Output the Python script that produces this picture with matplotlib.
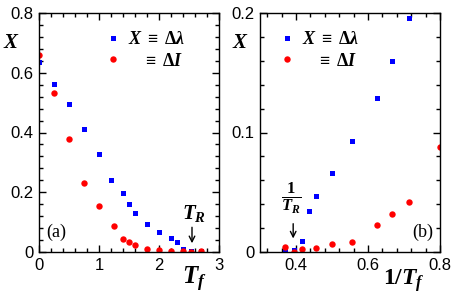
import matplotlib
matplotlib.use("Agg")
import matplotlib.pyplot as plt
import numpy as np
from matplotlib.ticker import MultipleLocator, FixedLocator, FixedFormatter

plt.rcParams['font.family'] = ['Liberation Sans', 'DejaVu Sans']
plt.rcParams['mathtext.fontset'] = 'custom'
plt.rcParams['mathtext.it'] = 'Liberation Serif:italic:bold'
plt.rcParams['mathtext.rm'] = 'Liberation Serif:bold'
plt.rcParams['mathtext.bf'] = 'Liberation Serif:bold'

# Data
Tf_lambda = [0, 0.25, 0.5, 0.75, 1.0, 1.2, 1.4, 1.5, 1.6, 1.8, 2.0, 2.2, 2.3, 2.4, 2.54, 2.7]
X_lambda = [0.635, 0.561, 0.496, 0.412, 0.327, 0.24, 0.196, 0.16, 0.129, 0.093, 0.066, 0.047, 0.034, 0.009, 0.002, 0.002]
Tf_I = [0, 0.25, 0.5, 0.75, 1.0, 1.25, 1.4, 1.5, 1.6, 1.8, 2.0, 2.2, 2.4, 2.54, 2.7]
X_I = [0.66, 0.531, 0.377, 0.23, 0.154, 0.088, 0.042, 0.032, 0.023, 0.0085, 0.0068, 0.0036, 0.0025, 0.0, 0.0038]
T_R = 2.55

xticks_a = [0, 1, 2, 3]
xticklabels_a = ['0', '1', '2', '3']
yticks_a = [0, 0.2, 0.4, 0.6, 0.8]
yticklabels_a = ['0', '0.2', '0.4', '0.6', '0.8']
xticks_b = [0.4, 0.6, 0.8]
xticklabels_b = ['0.4', '0.6', '0.8']
yticks_b = [0, 0.1, 0.2]
yticklabels_b = ['0', '0.1', '0.2']

lab_lambda = r'$X\;\equiv\;\Delta\lambda$'
lab_I = r'$\hspace{1.05}\equiv\;\Delta I$'

W, H = 457, 297
fig = plt.figure(figsize=(W/100, H/100), dpi=100)
axa = fig.add_axes([39/W, 1-252/H, 180/W, 239/H])
axb = fig.add_axes([260/W, 1-252/H, 180/W, 239/H])

blue = '#0000ff'
red = '#ff0000'

def style(ax, xt, xtl, yt, ytl, xmin, ymin):
    ax.xaxis.set_major_locator(FixedLocator(xt))
    ax.xaxis.set_major_formatter(FixedFormatter(xtl))
    ax.yaxis.set_major_locator(FixedLocator(yt))
    ax.yaxis.set_major_formatter(FixedFormatter(ytl))
    ax.xaxis.set_minor_locator(MultipleLocator(xmin))
    ax.yaxis.set_minor_locator(MultipleLocator(ymin))
    ax.tick_params(which='both', direction='in', top=True, right=True, width=1, labelsize=12)
    ax.tick_params(which='major', length=5, pad=4)
    ax.tick_params(which='minor', length=3)
    for s in ax.spines.values():
        s.set_linewidth(1)

leg_kw = dict(frameon=False, fontsize=13, handlelength=0.6, handletextpad=0.5,
              borderaxespad=0.0, labelspacing=0.25, borderpad=0.0)

# Panel (a)
axa.plot(Tf_lambda, X_lambda, 's', color=blue, ms=3.6, mew=0, label=lab_lambda)
axa.plot(Tf_I, X_I, 'o', color=red, ms=4.6, mew=0, label=lab_I)
axa.set_xlim(0, 3)
axa.set_ylim(0, 0.8)
style(axa, xticks_a, xticklabels_a, yticks_a, yticklabels_a, 0.2, 0.04)
axa.legend(loc='upper left', bbox_to_anchor=((108 - 39) / 180, (252 - 31) / 239), **leg_kw)
axa.text(0.04, 0.084, '(a)', transform=axa.transAxes, fontsize=13,
         family='Liberation Serif', ha='left', va='center')
axa.annotate('', xy=(T_R, 0.02), xytext=(T_R, 0.092),
             arrowprops=dict(arrowstyle='->', lw=1, color='black'))
axa.text(T_R + 0.03, 0.13, r'$T_R$', fontsize=15, ha='center', va='center')
fig.text(3/W, 1-43/H, r'$X$', fontsize=15, ha='left', va='center')
fig.text(194/W, 1-279/H, r'$T_f$', fontsize=18, ha='center', va='center')

# Panel (b)
axb.plot(1/np.array(Tf_lambda[1:]), X_lambda[1:], 's', color=blue, ms=3.6, mew=0, label=lab_lambda)
axb.plot(1/np.array(Tf_I[1:]), X_I[1:], 'o', color=red, ms=4.6, mew=0, label=lab_I)
axb.set_xlim(0.3, 0.8)
axb.set_ylim(0, 0.2)
style(axb, xticks_b, xticklabels_b, yticks_b, yticklabels_b, 0.04, 0.02)
axb.legend(loc='upper left', bbox_to_anchor=((282 - 260) / 180, (252 - 31) / 239), **leg_kw)
axb.text(0.96, 0.084, '(b)', transform=axb.transAxes, fontsize=13,
         family='Liberation Serif', ha='right', va='center')
axb.annotate('', xy=(1/T_R, 0.009), xytext=(1/T_R, 0.026),
             arrowprops=dict(arrowstyle='->', lw=1, color='black'))
axb.text(0.386, 0.045, r'$\frac{1}{T_R}$', fontsize=17, ha='center', va='center')
fig.text(232/W, 1-43/H, r'$X$', fontsize=15, ha='left', va='center')
fig.text(404/W, 1-281/H, r'$1/T_f$', fontsize=17, ha='center', va='center')

fig.savefig('out.png', dpi=100)
